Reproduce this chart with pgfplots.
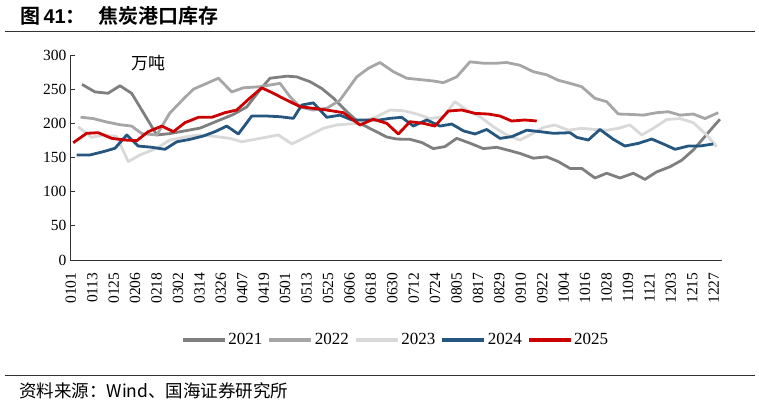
\documentclass[border=0pt]{standalone}
\usepackage{fontspec}
\usepackage{pgfplots}
\pgfplotsset{compat=1.18}
\setmainfont{Liberation Serif}
\newfontfamily\cjk{Noto Sans CJK SC}
\newfontfamily\cjkb{Noto Sans CJK SC Bold}
\newfontfamily\arialb{Liberation Sans}
\newfontfamily\tnr{Liberation Serif}

\definecolor{c21}{RGB}{127,127,127}
\definecolor{c22}{RGB}{166,166,166}
\definecolor{c23}{RGB}{217,217,217}
\definecolor{c24}{RGB}{37,86,128}
\definecolor{c25}{RGB}{204,0,0}

\begin{document}
\begin{tikzpicture}
\path[use as bounding box] (0,0) rectangle (759bp,-405bp);
% title and rules
\node[anchor=base west, inner sep=0pt, font=\fontsize{20bp}{22bp}\selectfont] at (20bp,-23bp)
  {{\cjkb 图}\,{\arialb\bfseries 41}{\cjkb ：}\hspace{13bp}{\cjkb 焦炭港口库存}};
\draw[line width=1bp, black!80] (5bp,-31.7bp) -- (755bp,-31.7bp);
\draw[line width=1bp, black!80] (5bp,-375bp) -- (755bp,-375bp);
\node[anchor=base west, inner sep=0pt, font=\cjk\fontsize{17.5bp}{19bp}\selectfont] at (19bp,-397bp)
  {资料来源：Wind、国海证券研究所};

\begin{axis}[
    scale only axis,
    width=651.7bp,
    height=205bp,
    at={(70bp,-260bp)},
    anchor=south west,
    xmin=-0.5, xmax=364.5,
    ymin=0, ymax=300,
    axis x line*=bottom,
    axis y line*=left,
    axis line style={-, black!80, line width=1bp},
    ytick={0,50,...,300},
    major tick length=5bp,
    tick style={black!80, line width=1bp},
    xtick={0,12,...,360},
    xticklabels={0101,0113,0125,0206,0218,0302,0314,0326,0407,0419,0501,0513,0525,0606,0618,0630,0712,0724,0805,0817,0829,0910,0922,1004,1016,1028,1109,1121,1203,1215,1227},
    x tick style={draw=none},
    extra x ticks={19.5,39.5,...,359.5},
    extra x tick labels={},
    extra x tick style={major tick length=6bp, tick style={draw=black!80, line width=1bp}},
    xticklabel style={yshift=-9bp, rotate=90, anchor=east, font=\tnr\fontsize{15.5bp}{17bp}\selectfont},
    yticklabel style={font=\tnr\fontsize{15.5bp}{17bp}\selectfont},
    /pgf/number format/assume math mode=true,
    clip=false,
    legend columns=5,
    legend style={at={(0.4995,-0.39)}, anchor=center, draw=none, fill=none,
        font=\tnr\fontsize{17bp}{19bp}\selectfont,
        /tikz/every even column/.append style={column sep=3bp},
        inner sep=0pt},
    legend image code/.code={\draw[#1, line width=3.5bp] (0bp,0bp) -- (42bp,0bp);},
    every axis plot/.append style={line width=2.8bp, line join=round, mark=none},
]
\addplot[c21] coordinates {
(6.2,257) (13.5,246) (20.8,244) (27.5,255) (34,244) (39.7,219.5) (48.1,183) (55.4,185)
(63.9,189) (72.3,193) (83.5,205) (91,213) (98.5,224) (105.9,249) (111.5,266) (120.9,269)
(126.5,268) (133.9,261) (140.5,251) (147,237) (154.5,217) (161.9,200) (169.4,190) (176.9,180)
(182.5,177) (189.9,176.6) (196.5,172) (203,163) (209.5,166) (216.1,178) (223.5,171) (231,163)
(238.5,165) (245.9,160) (251.5,156) (259,149) (266.5,151) (273,144) (279.6,134) (286.1,134)
(293.5,120) (300.1,127) (307.5,120) (315,127) (321.5,118) (328.1,129) (335.6,136.5) (342.1,146)
(348.6,161) (354.2,178) (359.8,195) (363.5,206)
};
\addlegendentry{2021}
\addplot[c22] coordinates {
(5.4,209) (12.5,207) (20,202) (27.5,198) (34,196) (39.7,185) (48.1,183) (55.4,215)
(62.8,235) (68.6,250) (76.1,258.5) (82.6,266) (90.1,246) (96.6,252) (105.9,253.6) (117.1,258.5)
(122.7,239) (128.3,224) (135.8,219.5) (143.3,222) (150.7,234) (160.1,268) (166.6,280.5) (173.1,289)
(180.6,275.6) (188.1,266) (195.5,264) (203,262) (208.6,259.5) (216.1,268) (223.5,290) (231,288)
(238.5,288) (244.1,289) (251.5,285) (259,275.6) (266.5,271) (273,263) (279.6,258.5) (286.1,253.6)
(293.5,236.6) (300.1,231.7) (306.6,213.6) (314.1,213) (320.6,212) (328.1,215.6) (334.6,217) (341.2,212)
(348.6,213.6) (355.1,207) (362.6,215.6)
};
\addlegendentry{2022}
\addplot[c23] coordinates {
(4.1,195) (11.6,179.5) (18.1,183) (25.7,180.5) (32.1,144) (38.7,153.7) (48.1,163.5) (55.4,175.6)
(64.9,180.5) (72.3,183) (81.7,180.5) (89.1,178) (95.7,173) (105.9,178) (116.2,183) (123.7,170)
(128.3,175.6) (132.1,180.5) (141.4,192.7) (148.9,197.6) (160.1,200) (171.3,209.7) (178.7,219.5) (186.2,218.5)
(193.7,213.6) (201.1,207) (208.6,209.7) (215.1,231.7) (221.7,219.5) (229.1,209.7) (236.6,195) (244.1,183)
(251.5,175.6) (257.1,183) (264.6,194) (271.1,197.6) (278.6,190) (286.1,192.7) (293.5,191) (300.1,190)
(306.6,192.7) (313.1,197.6) (319.7,183) (326.2,192.7) (333.7,205.6) (341.2,207) (348.6,201) (356.1,183)
(361.7,165.8)
};
\addlegendentry{2023}
\addplot[c24] coordinates {
(3.2,153.7) (10.7,153.7) (18.1,158.5) (24.7,163.5) (31.3,183) (37.7,166.8) (45.3,165) (52.7,162)
(59.3,173) (66.7,176.6) (74.2,181.5) (80.7,187.8) (87.3,196) (93.8,184.4) (101.3,210.7) (109.7,210.7)
(117.1,209.7) (124.6,207.3) (129.3,226.8) (135.8,230) (143.3,208.8) (150.7,212) (157.3,205) (165.7,205)
(173.1,205) (178.7,207.3) (185.3,208.8) (191.8,196) (199.3,205) (206.7,196) (213.3,199) (219.8,189)
(226.3,184.4) (232.9,191) (240.3,178) (246.9,180.5) (255.3,190) (262.8,187.8) (270.2,185.4) (279.6,186.3)
(283.3,179.5) (289.8,175.6) (296.3,191) (303.8,176.6) (310.3,166.8) (317.8,170.7) (325.3,177) (331.8,169.8)
(338.4,162) (345.8,166.8) (352.3,166.8) (359.8,169.8)
};
\addlegendentry{2024}
\addplot[c25] coordinates {
(1.3,171.6) (8.8,185.4) (15.3,186.3) (22.9,178) (30.3,175.6) (36.9,174.6) (43.3,187.8) (50.9,196)
(57.4,187.8) (63.9,201) (71.4,208.8) (78.9,208.8) (86.3,215.6) (92.9,219.5) (99.4,235) (106.9,252)
(113.4,244) (117.1,239) (122.7,231.7) (128.3,224.4) (135.8,222) (143.3,219.5) (152.6,215.6) (161.9,197.6)
(169.4,206) (176.9,200) (183.4,184.4) (189.9,202.4) (197.4,200) (203.9,196) (211.4,218) (218.9,219.5)
(226.3,214.6) (233.8,213.6) (240.3,210.7) (246.9,203.4) (254.3,204.9) (260.9,203.4)
};
\addlegendentry{2025}
\node[font=\cjk\fontsize{17bp}{19bp}\selectfont, anchor=center] at (rel axis cs:0.12,0.96) {万吨};
\end{axis}
\end{tikzpicture}
\end{document}
